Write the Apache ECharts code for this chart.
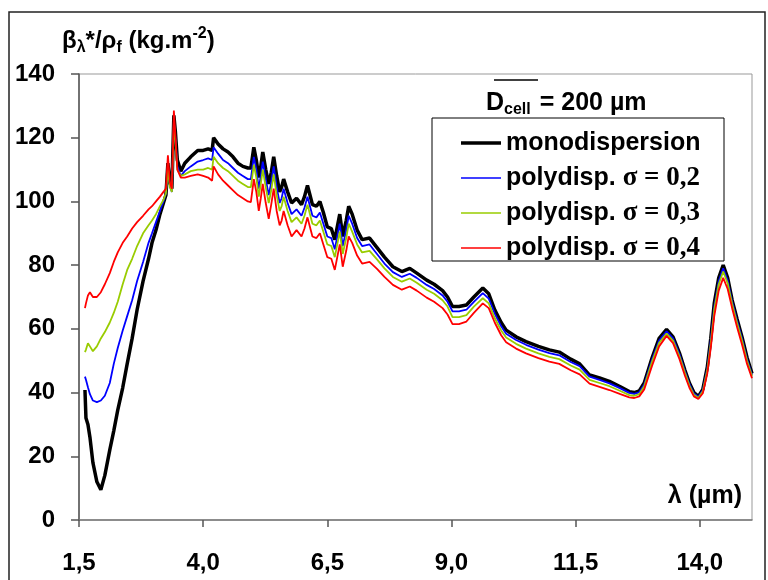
<!DOCTYPE html>
<html>
<head>
<meta charset="utf-8">
<script src="https://cdn.jsdelivr.net/npm/echarts@6/dist/echarts.min.js"></script>
<style>
  html, body { margin: 0; padding: 0; background: #fff; }
  #chart { width: 768px; height: 580px; }
</style>
</head>
<body>
<div id="chart"></div>
<script>
"use strict";

// wavelength (µm), shared by all curves
var wavelength = [
  1.62, 1.64, 1.68, 1.72, 1.78, 1.86, 1.94, 2.02, 2.12, 2.2,
  2.28, 2.38, 2.47, 2.57, 2.67, 2.79, 2.9, 2.97, 3.05, 3.13,
  3.2, 3.25, 3.29, 3.33, 3.37, 3.41, 3.44, 3.48, 3.55, 3.63,
  3.75, 3.89, 4.0, 4.1, 4.18, 4.21, 4.3, 4.4, 4.5, 4.6,
  4.7, 4.8, 4.9, 4.96, 5.02, 5.07, 5.12, 5.16, 5.2, 5.26,
  5.32, 5.37, 5.42, 5.48, 5.54, 5.58, 5.62, 5.7, 5.78, 5.88,
  5.98, 6.04, 6.1, 6.15, 6.2, 6.28, 6.35, 6.42, 6.5, 6.58,
  6.65, 6.7, 6.75, 6.81, 6.88, 6.93, 7.0, 7.1, 7.2, 7.35,
  7.5, 7.65, 7.82, 8.0, 8.16, 8.3, 8.5, 8.65, 8.82, 8.92,
  9.02, 9.15, 9.3, 9.45, 9.63, 9.75, 9.87, 10.0, 10.1, 10.3,
  10.5, 10.75, 10.97, 11.17, 11.4, 11.58, 11.78, 11.98, 12.18, 12.4,
  12.58, 12.68, 12.78, 12.88, 13.04, 13.18, 13.33, 13.46, 13.59, 13.7,
  13.79, 13.88, 13.97, 14.06, 14.15, 14.22, 14.29, 14.38, 14.47, 14.56,
  14.65, 14.75, 14.85, 14.95, 15.05
];

var monoValues = [
  40.8, 32, 30, 26, 18, 12, 9.5, 14, 22, 28,
  34.5, 41.5, 49, 57, 66, 75, 82, 87, 91, 96,
  99.5, 102, 112, 106, 104, 127, 122, 113, 109.5, 112,
  114, 116, 116, 116.5, 116, 120, 118, 116.5, 115.5, 114,
  112, 111, 110.5, 110.5, 117, 113, 107.5, 111, 115.5, 110,
  105.5, 109, 114, 108, 103, 104.5, 107, 103, 99.5, 101,
  99, 101.5, 105, 102, 99, 98.5, 100, 96.5, 92, 91.5,
  88, 92, 96, 89, 94, 98.5, 96, 91, 88, 88.5,
  85.5, 82.5, 79.5, 78, 79, 77.5, 75.3, 74, 72, 70,
  67, 67, 67.5, 70, 72.8, 71, 66, 62, 59.6, 57.5,
  56, 54.5, 53.4, 52.7, 50.5, 49, 45.5, 44.6, 43.5, 41.8,
  40.3, 40, 40.5, 43, 51, 57, 59.8, 57.5, 52.4, 47,
  43, 40, 38.8, 41, 48, 57, 68, 76, 80, 76,
  69, 63, 57.4, 51, 46
];

var sigma02Values = [
  45, 44, 41.7, 39.5, 37.5, 37, 37.5, 39, 43, 49,
  54, 59.5, 64, 69, 75, 81, 87, 90, 93.5, 97,
  100, 102.5, 110, 105, 103, 125, 120, 111, 108, 109.5,
  111, 112.5, 113, 113.5, 113, 117, 115, 113, 112, 110.5,
  109, 108, 107, 107, 114, 110, 104, 108, 112.5, 107,
  102, 106, 111, 104.5, 99.5, 101, 104, 99.5, 96, 97.5,
  95.5, 98, 101.5, 98.5, 95.5, 95, 96.5, 93, 89, 88.5,
  85, 89, 93, 86, 91, 95.5, 93, 88.5, 86, 86.5,
  83.5, 80.5, 77.8, 76.3, 77.3, 76, 73.8, 72.5, 70.5, 68.5,
  65.5, 65.5, 66, 68.5, 71.2, 69.5, 64.8, 60.8, 58.5, 56.5,
  55, 53.5, 52.4, 51.7, 49.6, 48.3, 45, 44, 42.9, 41.3,
  39.9, 39.6, 40.1, 42.5, 50.5, 56.3, 59.2, 57, 52, 46.7,
  42.7, 39.7, 38.6, 40.8, 47.5, 56.5, 67, 75, 79, 75.2,
  68.5, 62.5, 56.9, 50.5, 45.6
];

var sigma03Values = [
  52.7, 53.5, 55.5, 54.5, 53, 54.5, 57, 59, 62, 65,
  68.5, 74, 78.5, 82, 86, 90, 92.5, 94, 96, 98.5,
  100.5, 102.5, 110, 104.5, 103, 125, 119, 110, 108, 108.5,
  109.5, 110, 110, 110.5, 110, 114, 112, 110.5, 109.5, 108,
  106.5, 105.5, 104.5, 104.5, 111.5, 107.5, 101.5, 105.5, 110, 104.5,
  99.5, 103.5, 108.5, 102, 97, 98.5, 101.5, 97, 93.5, 95,
  93, 95.5, 99, 96, 93, 92.5, 94, 90.5, 86.5, 86,
  82.5, 86.5, 90.5, 83.5, 88.5, 93, 90.5, 86.5, 84, 84.5,
  81.8, 79, 76.3, 74.8, 75.8, 74.5, 72.3, 71, 69, 67,
  63.7, 63.7, 64.3, 67, 69.6, 68, 63.4, 59.5, 57.3, 55.3,
  53.8, 52.3, 51.2, 50.5, 48.5, 47.2, 44, 43, 42, 40.5,
  39.2, 39, 39.5, 42, 49.8, 55.6, 58.5, 56.3, 51.4, 46.2,
  42.2, 39.3, 38.3, 40.4, 47, 55.5, 66, 74, 78, 74.3,
  67.8, 61.8, 56.3, 50, 45.2
];

var sigma04Values = [
  66.5, 68, 70.5, 71.5, 70, 70, 71.5, 74, 77.5, 81,
  84, 87, 89, 91.5, 93.5, 95.5, 97.5, 98.5, 100, 101.5,
  103, 104, 114.5, 106, 104, 128.5, 121, 110, 107.5, 107.5,
  108, 108.5, 108, 107.5, 106.5, 111, 108.5, 106.5, 105, 103.5,
  102, 101, 100, 99.8, 107, 103, 97, 101, 105.5, 99.5,
  94.5, 99, 104, 97, 92.5, 94, 97, 92.5, 89, 91,
  89, 91.5, 95, 92, 89, 88.5, 90, 86.5, 82.5, 82,
  78.5, 82.5, 86.5, 79.5, 84.5, 89, 87, 83, 80.5, 81,
  78.8, 76.3, 73.8, 72.3, 73.3, 72, 69.8, 68.5, 66.5, 64.5,
  61.5, 61.5, 62.3, 65, 68, 66.5, 62, 58, 55.8, 53.8,
  52.3, 50.8, 49.7, 49, 47, 45.7, 42.8, 41.8, 40.8, 39.5,
  38.5, 38.3, 38.8, 41, 48.5, 54.5, 57.8, 55.5, 50.5, 45.3,
  41.5, 38.8, 38, 39.8, 46, 54, 64, 72, 76, 72.5,
  66.5, 60.5, 55, 49, 44.5
];

var seriesNames = ["monodispersion", "polydisp. σ = 0,2", "polydisp. σ = 0,3", "polydisp. σ = 0,4"];
var seriesColors = ["#000000", "#0000ff", "#99cc00", "#ff0000"];
var xTicks = [1.5, 4.0, 6.5, 9.0, 11.5, 14.0];
var yTicks = [0, 20, 40, 60, 80, 100, 120, 140];

var FONT = "Liberation Sans";

function pairs(values) {
  return values.map(function(v, i) {
    return [wavelength[i], v];
  });
}

function buildSeries() {
  var allValues = [monoValues, sigma02Values, sigma03Values, sigma04Values];
  return allValues.map(function(values, i) {
    return {
      name: seriesNames[i],
      type: "line",
      data: pairs(values),
      symbol: "none",
      smooth: false,
      z: 2 + i,
      lineStyle: {
        color: seriesColors[i],
        width: i === 0 ? 3.5 : 1.8
      },
      itemStyle: { color: seriesColors[i] }
    };
  });
}

// legend swatches: plain bars, thick one for the monodispersion curve
function buildLegendData() {
  return seriesNames.map(function(name, i) {
    var h = i === 0 ? 3.5 : 1.6;
    return {
      name: name,
      icon: "path://M0,0L40,0L40," + h + "L0," + h + "Z"
    };
  });
}

function legendFormatter(name) {
  var k = name.indexOf("σ");
  if(k < 0) {
    return name;
  }
  return name.substring(0, k) + "{s|" + name.substring(k) + "}";
}

var myChart = echarts.init(document.getElementById("chart"), null, { renderer: "canvas" });

var options = {
  animation: false,
  backgroundColor: "#ffffff",
  grid: {
    left: 79,
    right: 16,
    top: 74,
    bottom: 60,
    show: true,
    borderColor: "#999999",
    borderWidth: 1,
    outerBoundsMode: "none"
  },
  xAxis: {
    type: "value",
    min: 1.5,
    max: 15.05,
    axisLine: { show: true, onZero: false, lineStyle: { color: "#777777", width: 1.5 } },
    axisTick: { show: true, length: 7, customValues: xTicks, lineStyle: { color: "#555555", width: 1.5 } },
    axisLabel: {
      customValues: xTicks,
      margin: 31,
      fontFamily: FONT,
      fontWeight: "bold",
      fontSize: 24,
      color: "#000",
      formatter: function(v) {
        return v.toFixed(1).replace(".", ",");
      }
    },
    splitLine: { show: false }
  },
  yAxis: {
    type: "value",
    min: 0,
    max: 140,
    interval: 20,
    axisLine: { show: true, lineStyle: { color: "#555555", width: 1.5 } },
    axisTick: { show: true, length: 8, customValues: yTicks, lineStyle: { color: "#555555", width: 1.5 } },
    axisLabel: {
      margin: 24,
      fontFamily: FONT,
      fontWeight: "bold",
      fontSize: 24,
      color: "#000"
    },
    splitLine: { show: false }
  },
  legend: {
    orient: "vertical",
    left: 456,
    top: 123,
    itemWidth: 40,
    itemHeight: 14,
    itemGap: 5,
    symbolKeepAspect: true,
    z: 20,
    data: buildLegendData(),
    formatter: legendFormatter,
    textStyle: {
      fontFamily: FONT,
      fontWeight: "bold",
      fontSize: 25,
      color: "#000",
      lineHeight: 30,
      rich: {
        s: {
          fontFamily: "Liberation Serif",
          fontWeight: "bold",
          fontSize: 27,
          color: "#000",
          lineHeight: 30
        }
      }
    }
  },
  graphic: [
    {
      // outer frame
      type: "rect",
      z: 1,
      shape: { x: 9, y: 12, width: 756, height: 600 },
      style: { fill: "none", stroke: "#222", lineWidth: 1.5 }
    },
    {
      // legend box
      type: "rect",
      z: 15,
      shape: { x: 432, y: 118, width: 292, height: 143 },
      style: { fill: "#fff", stroke: "#000", lineWidth: 1 }
    },
    {
      type: "text",
      z: 16,
      left: 486,
      top: 88,
      style: {
        text: "D{sub|cell} = 200 µm",
        fontFamily: FONT,
        fontWeight: "bold",
        fontSize: 25,
        fill: "#000",
        lineHeight: 30,
        rich: {
          sub: {
            fontFamily: FONT,
            fontWeight: "bold",
            fontSize: 16,
            lineHeight: 16,
            verticalAlign: "bottom",
            padding: [0, 2, 0, 0]
          }
        }
      }
    },
    {
      // overline on D cell
      type: "line",
      z: 16,
      shape: { x1: 494, y1: 80, x2: 538, y2: 80 },
      style: { stroke: "#000", lineWidth: 1.5 }
    },
    {
      // y axis name
      type: "text",
      z: 16,
      left: 62,
      top: 26,
      style: {
        text: "β{sub|λ}*/ρ{sub|f} (kg.m{sup|-2})",
        fontFamily: FONT,
        fontWeight: "bold",
        fontSize: 24,
        fill: "#000",
        lineHeight: 30,
        rich: {
          sub: {
            fontFamily: FONT,
            fontWeight: "bold",
            fontSize: 16,
            lineHeight: 12,
            verticalAlign: "bottom"
          },
          sup: {
            fontFamily: FONT,
            fontWeight: "bold",
            fontSize: 16,
            lineHeight: 16,
            verticalAlign: "top"
          }
        }
      }
    },
    {
      type: "text",
      z: 16,
      right: 26,
      top: 484,
      style: {
        text: "λ (µm)",
        fontFamily: FONT,
        fontWeight: "bold",
        fontSize: 25,
        fill: "#000"
      }
    }
  ],
  series: buildSeries()
};

myChart.setOption(options);
</script>
</body>
</html>
